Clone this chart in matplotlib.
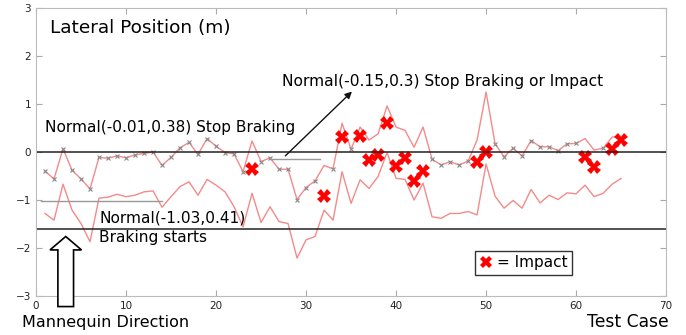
import matplotlib
matplotlib.use('Agg')
import matplotlib.pyplot as plt
from matplotlib.patches import FancyArrow
from matplotlib.lines import Line2D

plt.rcParams['font.family'] = ['DejaVu Sans']

# test cases 1..65
cases = list(range(1, 66))
# lateral position when braking stops (upper line)
stop_pos = [-0.40, -0.56, 0.07, -0.38, -0.56, -0.77, -0.11, -0.13, -0.08, -0.12,
            -0.06, -0.03, 0.00, -0.28, -0.11, 0.09, 0.20, -0.05, 0.28, 0.12,
            -0.01, -0.04, -0.41, 0.23, -0.20, -0.12, -0.36, -0.36, -0.99, -0.74,
            -0.60, -0.28, -0.35, 0.60, 0.06, 0.52, 0.25, 0.38, 0.96, 0.52,
            0.45, 0.10, 0.52, -0.15, -0.27, -0.20, -0.27, -0.19, 0.25, 1.25,
            0.17, -0.10, 0.08, -0.08, 0.24, 0.11, 0.11, 0.03, 0.17, 0.18,
            0.28, 0.04, 0.08, 0.31, 0.33]
# lateral position when braking starts (lower line)
start_pos = [-1.28, -1.42, -0.67, -1.21, -1.49, -1.87, -0.96, -0.94, -0.88, -0.93,
             -0.90, -0.83, -0.81, -1.15, -0.93, -0.72, -0.62, -0.90, -0.57, -0.69,
             -0.83, -1.14, -1.56, -0.86, -1.47, -1.14, -1.45, -1.49, -2.21, -1.83,
             -1.76, -1.21, -1.42, -0.41, -1.07, -0.58, -0.76, -0.51, -0.01, -0.55,
             -0.57, -1.00, -0.65, -1.35, -1.38, -1.28, -1.28, -1.24, -1.31, -0.25,
             -0.92, -1.17, -1.01, -1.17, -0.78, -1.06, -0.90, -0.99, -0.85, -0.87,
             -0.69, -0.93, -0.86, -0.67, -0.55]
# impacts
impact_case = [24, 32, 34, 36, 37, 38, 39, 40, 41, 42, 43, 49, 50, 61, 62, 64, 65]
impact_pos = [-0.35, -0.92, 0.32, 0.33, -0.17, -0.06, 0.60, -0.30, -0.12, -0.60,
              -0.39, -0.20, 0.00, -0.11, -0.31, 0.07, 0.25]

mark_case = [c for c in cases if c not in impact_case]
mark_pos = [stop_pos[c - 1] for c in mark_case]

fig = plt.figure(figsize=(6.86, 3.35), dpi=100)
ax = fig.add_axes([0.0525, 0.1164, 0.9185, 0.8596])

ax.plot(cases, stop_pos, color='#f48a8a', lw=1.0)
ax.plot(cases, start_pos, color='#f48a8a', lw=1.0)
ax.plot(mark_case, mark_pos, ls='none', marker='x', ms=3, mew=0.8, color='#888888')
ax.plot(impact_case, impact_pos, ls='none', marker='X', ms=10, mew=0, color='#ff0000')

# thresholds and means
ax.axhline(0, color='#222222', lw=1.1)
ax.axhline(-1.6, color='#222222', lw=1.1)
ax.plot([0.6, 14], [-1.03, -1.03], color='#999999', lw=1.0)
ax.plot([26, 31.5], [-0.15, -0.15], color='#999999', lw=1.0)

ax.annotate('', xy=(35.1, 1.26), xytext=(27.7, -0.08),
            arrowprops=dict(arrowstyle='-|>', color='#111111', lw=1.0, mutation_scale=10,
                            shrinkA=0, shrinkB=0))

ax.text(1.5, 2.58, 'Lateral Position (m)', fontsize=13.3, va='center')
ax.text(1.0, 0.52, 'Normal(-0.01,0.38) Stop Braking', fontsize=11.1, va='center')
ax.text(7.0, -1.375, 'Normal(-1.03,0.41)', fontsize=11.1, va='center')
ax.text(7.0, -1.79, 'Braking starts', fontsize=11.1, va='center')
ax.text(27.3, 1.46, 'Normal(-0.15,0.3) Stop Braking or Impact', fontsize=11.2, va='center')

arr = FancyArrow(3.3, -3.22, 0, 1.46, width=1.74, head_width=3.5, head_length=0.28,
                 length_includes_head=True, facecolor='white', edgecolor='black',
                 lw=1.2, clip_on=False, zorder=5)
ax.add_patch(arr)

handle = Line2D([], [], ls='none', marker='X', ms=9, mew=0, color='#ff0000')
leg = ax.legend([handle], ['= Impact'], loc='lower left', bbox_to_anchor=(0.697, 0.073),
                fontsize=11, frameon=True, fancybox=False, handlelength=0.8,
                handletextpad=0.3, borderpad=0.3, borderaxespad=0)
leg.get_frame().set_edgecolor('black')
leg.get_frame().set_linewidth(1.0)

ax.set_xlim(0, 70)
ax.set_ylim(-3, 3)
ax.set_xticks(range(0, 71, 10))
ax.set_yticks(range(-3, 4))
ax.tick_params(direction='in', top=True, right=True, labelsize=7.5, color='#aaaaaa',
               length=4, labelcolor='#222222')
for s in ax.spines.values():
    s.set_color('#bbbbbb')

fig.text(0.032, 0.036, 'Mannequin Direction', fontsize=11.5, va='center')
fig.text(0.975, 0.038, 'Test Case', fontsize=12.3, va='center', ha='right')

fig.savefig('out.png', dpi=100)
